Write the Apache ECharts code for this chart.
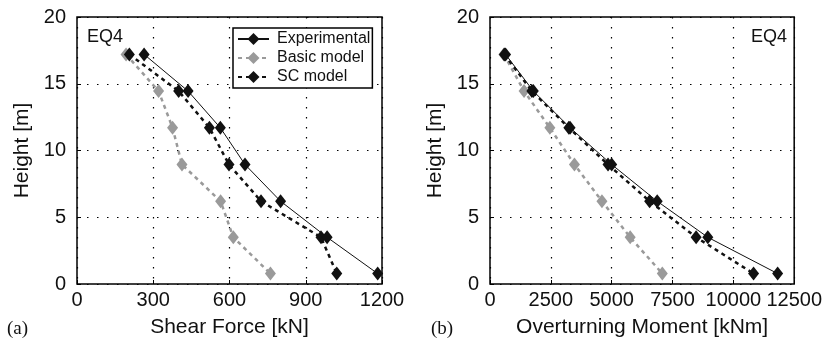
<!DOCTYPE html>
<html>
<head>
<meta charset="utf-8">
<script src="https://cdn.jsdelivr.net/npm/echarts@6/dist/echarts.min.js"></script>
<style>
  html, body { margin: 0; padding: 0; background: #fff; }
  #chart { width: 825px; height: 344px; }
</style>
</head>
<body>
<div id="chart"></div>
<script>
// storey heights [m], shared by both panels
const heights = [17.2, 14.45, 11.7, 8.95, 6.2, 3.5, 0.78];

// (a) shear force [kN]
const shearExp = [264, 437, 564, 661, 801, 984, 1183];
const shearBasic = [193, 321, 376, 413, 565, 615, 761];
const shearSC = [206, 400, 521, 598, 724, 960, 1022];

// (b) overturning moment [kNm]
const momentExp = [640, 1780, 3290, 5000, 6870, 8950, 11820];
const momentBasic = [570, 1400, 2460, 3470, 4600, 5760, 7080];
const momentSC = [590, 1720, 3240, 4850, 6560, 8470, 10830];

const shearTicks = { min: 0, max: 1200, interval: 300 };
const momentTicks = { min: 0, max: 12500, interval: 2500 };
const heightTicks = { min: 0, max: 20, interval: 5 };

const FONT = "Liberation Sans";
const BLACK = "#111";
const GRAY = "#9a9a9a";

const chart = echarts.init(document.getElementById("chart"), null, { renderer: "canvas" });

const pairs = (xs) => xs.map((x, i) => [x, heights[i]]);

function makeSeries(name, xs, idx, color, dashed) {
  return {
    name,
    type: "line",
    xAxisIndex: idx,
    yAxisIndex: idx,
    data: pairs(xs),
    symbol: "diamond",
    symbolSize: [11, 14],
    itemStyle: { color },
    lineStyle: dashed
      ? { color, width: 2.5, type: [4, 4] }
      : { color, width: 1 },
    animation: false,
    z: dashed ? 3 : 4
  };
}

function xAxisOf(idx, name, ticks) {
  return {
    type: "value",
    gridIndex: idx,
    min: ticks.min, max: ticks.max, interval: ticks.interval,
    name,
    nameLocation: "middle",
    nameGap: 33,
    nameTextStyle: { fontFamily: FONT, fontSize: 21, color: BLACK },
    axisLine: { show: false },
    axisTick: { show: true, inside: true, length: 4, lineStyle: { color: "#000" } },
    axisLabel: { fontFamily: FONT, fontSize: 20, color: BLACK, margin: 6, formatter: (v) => String(v) },
    splitLine: { show: true, lineStyle: { color: "#000", width: 1.2, type: [1.5, 8.5] } }
  };
}

function yAxisOf(idx) {
  return {
    type: "value",
    gridIndex: idx,
    min: heightTicks.min, max: heightTicks.max, interval: heightTicks.interval,
    name: "Height [m]",
    nameLocation: "middle",
    nameGap: 44,
    nameTextStyle: { fontFamily: FONT, fontSize: 21, color: BLACK },
    axisLine: { show: false },
    axisTick: { show: true, inside: true, length: 4, lineStyle: { color: "#000" } },
    axisLabel: { fontFamily: FONT, fontSize: 20, color: BLACK, margin: 11, formatter: (v) => String(v) },
    splitLine: { show: true, lineStyle: { color: "#000", width: 1.2, type: [1.5, 8.5] } }
  };
}

const option = {
  backgroundColor: "#fff",
  animation: false,
  grid: [
    { left: 77, top: 17, width: 305, height: 267, show: true, borderColor: "#000", borderWidth: 1.5, backgroundColor: "transparent" },
    { left: 490, top: 17, width: 305, height: 267, show: true, borderColor: "#000", borderWidth: 1.5, backgroundColor: "transparent" }
  ],
  xAxis: [
    xAxisOf(0, "Shear Force [kN]", shearTicks),
    xAxisOf(1, "Overturning Moment [kNm]", momentTicks)
  ],
  yAxis: [yAxisOf(0), yAxisOf(1)],
  legend: {
    left: 233,
    top: 28,
    orient: "vertical",
    data: ["Experimental", "Basic model", "SC model"],
    itemWidth: 31,
    itemHeight: 15,
    itemGap: 3,
    padding: [3, 2, 3, 4],
    backgroundColor: "#fff",
    borderColor: "#000",
    borderWidth: 1.5,
    borderRadius: 0,
    selectedMode: false,
    textStyle: { fontFamily: FONT, fontSize: 16, color: BLACK, padding: [0, 0, 0, 3] }
  },
  graphic: [
    { type: "text", left: 87, top: 28, style: { text: "EQ4", font: "18px " + FONT, fill: BLACK } },
    { type: "text", right: 38, top: 28, style: { text: "EQ4", font: "18px " + FONT, fill: BLACK } },
    { type: "text", left: 7, top: 320, style: { text: "(a)", font: "19px 'Liberation Serif'", fill: BLACK } },
    { type: "text", left: 431, top: 320, style: { text: "(b)", font: "19px 'Liberation Serif'", fill: BLACK } }
  ],
  series: [
    makeSeries("Basic model", shearBasic, 0, GRAY, true),
    makeSeries("SC model", shearSC, 0, BLACK, true),
    makeSeries("Experimental", shearExp, 0, BLACK, false),
    makeSeries("Basic model", momentBasic, 1, GRAY, true),
    makeSeries("SC model", momentSC, 1, BLACK, true),
    makeSeries("Experimental", momentExp, 1, BLACK, false)
  ]
};

chart.setOption(option);
</script>
</body>
</html>
